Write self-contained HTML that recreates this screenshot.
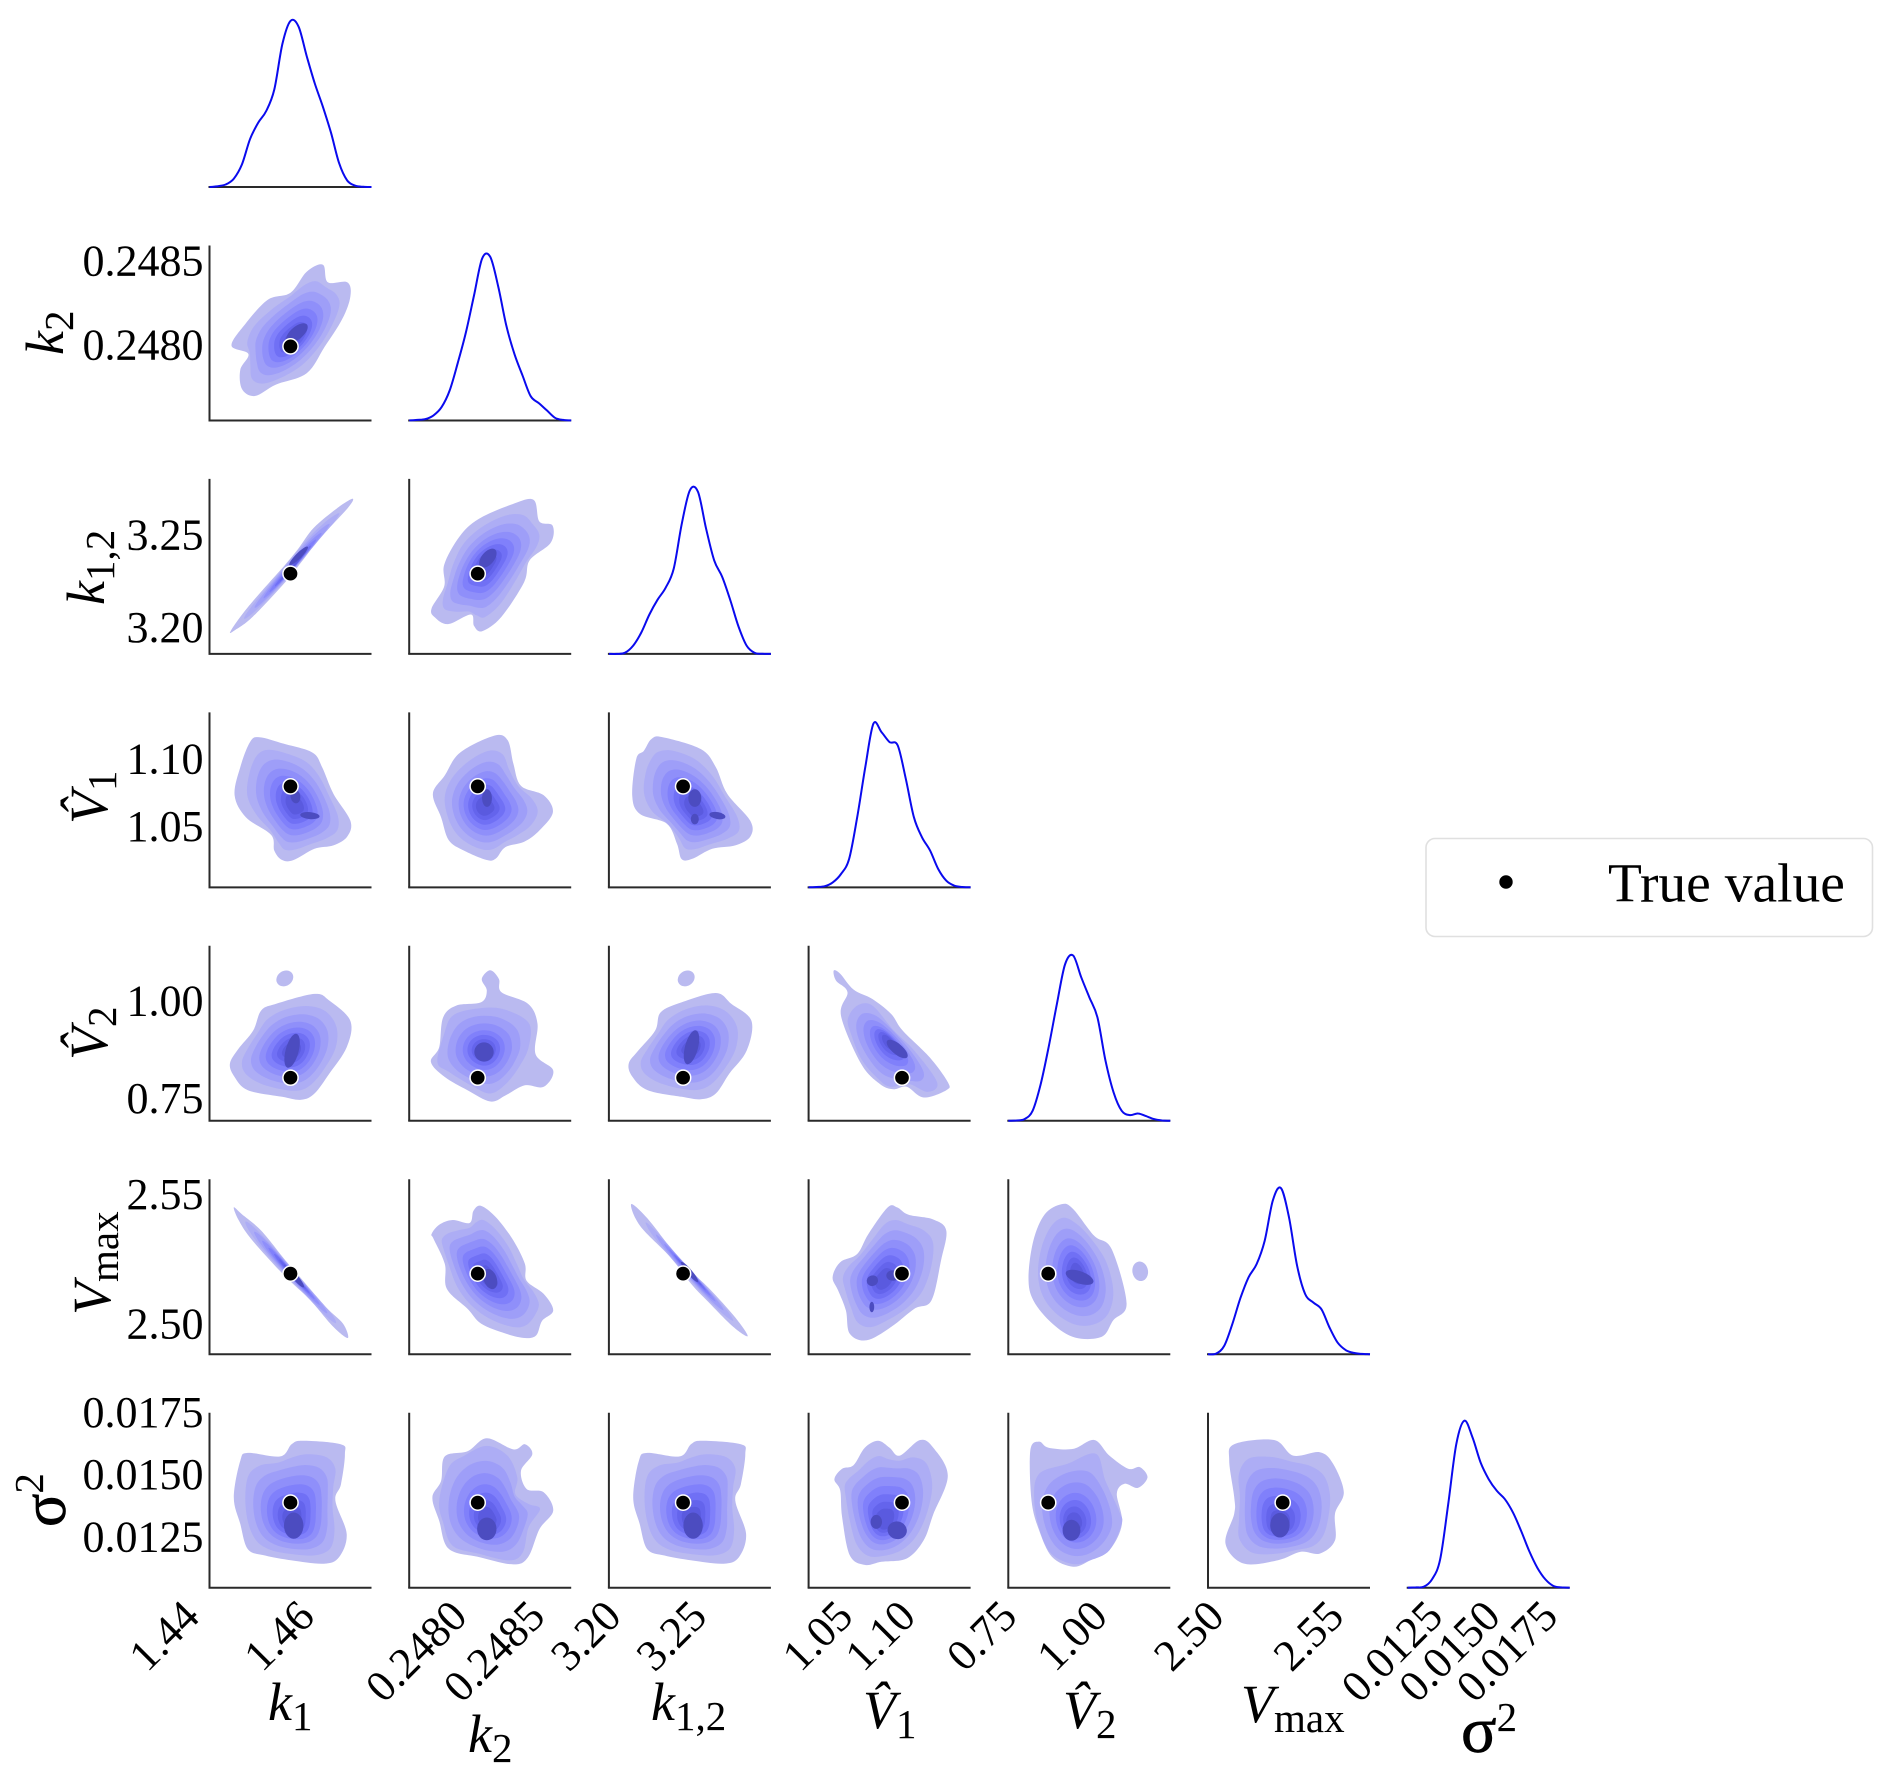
<!DOCTYPE html>
<html lang="en">
<head>
<meta charset="utf-8">
<title>Posterior pair plot</title>
<style>
html,body{margin:0;padding:0;background:#fff;}
svg{display:block;}
text{font-family:"Liberation Serif",serif;fill:#000;}
.tick{font-size:44px;}
.lab{font-size:54px;font-style:italic;}
.sub{font-size:41px;font-style:normal;}
.sig{font-size:66px;font-style:normal;stroke:#000;stroke-width:0.7px;}
.sigy{font-size:62px;font-style:normal;stroke:#000;stroke-width:0.7px;}
</style>
</head>
<body>
<svg id="chart" xmlns="http://www.w3.org/2000/svg" width="1892" height="1780" viewBox="0 0 1892 1780">
  <rect x="0" y="0" width="1892" height="1780" fill="#ffffff"/>
  <g id="panels"></g>
  <g id="ticks"></g>

  <g>
    <text class="lab" x="268" y="1720">k<tspan class="sub" dy="10">1</tspan></text>
    <text class="lab" x="468" y="1752">k<tspan class="sub" dy="10">2</tspan></text>
    <text class="lab" x="651" y="1720">k<tspan class="sub" dy="10">1,2</tspan></text>
    <text class="lab" x="863" y="1728">V&#770;<tspan class="sub" dy="10">1</tspan></text>
    <text class="lab" x="1063" y="1728">V&#770;<tspan class="sub" dy="10">2</tspan></text>
    <text class="lab" x="1241" y="1722">V<tspan class="sub" dy="10">max</tspan></text>
    <text class="lab" x="1461" y="1752"><tspan class="sig">σ</tspan><tspan class="sub" dy="-21">2</tspan></text>
  </g>
  <g>
    <text class="lab" transform="translate(63 355) rotate(-90)">k<tspan class="sub" dy="10">2</tspan></text>
    <text class="lab" transform="translate(104 605) rotate(-90)">k<tspan class="sub" dy="10">1,2</tspan></text>
    <text class="lab" transform="translate(107 824) rotate(-90)">V&#770;<tspan class="sub" dy="9">1</tspan></text>
    <text class="lab" transform="translate(107 1060) rotate(-90)">V&#770;<tspan class="sub" dy="9">2</tspan></text>
    <text class="lab" transform="translate(110 1315) rotate(-90)">V<tspan class="sub" dy="8">max</tspan></text>
    <text class="lab" transform="translate(65 1527) rotate(-90)"><tspan class="sigy">σ</tspan><tspan class="sub" dy="-22">2</tspan></text>
  </g>

  <g>
    <rect x="1426" y="838.5" width="446.5" height="98" rx="9" ry="9" fill="#ffffff" stroke="#e0e0e0" stroke-width="1.6"/>
    <circle cx="1506" cy="882" r="6.7" fill="#000000"/>
    <text x="1608" y="901.5" style="font-size:55.5px">True value</text>
  </g>
</svg>

<script>
// Parameters, in panel order
const paramNames = ["k1", "k2", "k12", "V1", "V2", "Vmax", "sigma2"];
const domainLow  = [1.4399, 0.24756, 3.1866, 1.0062, 0.6967, 2.4888, 0.010515];
const domainHigh = [1.4681, 0.24860, 3.2813, 1.1354, 1.1447, 2.5565, 0.017557];
const trueValues = [1.454, 0.248, 3.23, 1.0807, 0.807, 2.52, 0.01394];

// Tick values and their printed labels
const tickValues = [
  [1.44, 1.46], [0.248, 0.2485], [3.20, 3.25], [1.05, 1.10], [0.75, 1.00], [2.50, 2.55], [0.0125, 0.0150, 0.0175]
];
const tickLabels = [
  ["1.44", "1.46"], ["0.2480", "0.2485"], ["3.20", "3.25"], ["1.05", "1.10"], ["0.75", "1.00"], ["2.50", "2.55"], ["0.0125", "0.0150", "0.0175"]
];

// Marginal densities (percent of peak), sampled at 21 even steps across each parameter's range
const density_k1 = [0,0.5,1.5,5,13.5,28.6,38.4,45.5,58.4,85.7,99.5,96,78.4,62,48,32.5,14.3,3.9,0.8,0.1,0];
const density_k2 = [0,0.3,0.8,3,8,18,34.5,52.7,74.8,96.9,98,80,56.6,39.7,26.8,14.5,10.4,6,1.6,0.3,0];
const density_k12 = [0,0,0.7,5,12.8,23.6,32.4,39.6,51,78,98,97,75,56,46,32,16.4,5,0.6,0.1,0];
const density_V1 = [0,0.2,0.7,3,8,17,42,72,98,93,87,85,65,42,30,22,11,4,1,0.2,0];
const density_V2 = [0,0.2,1,6,22,44.6,70,93.6,99,86,74,62,36,17,6,3.4,4.4,2.8,1,0.2,0];
const density_Vmax = [0,0.4,5,18,33.6,46,54,68,92,99.5,82,53,36,31,27,16,7,2.5,0.8,0.2,0];
const density_sigma2 = [0,0.2,0.6,5,16.8,50,86,100,90,75,65,58,53,45,34,22,12,5,1,0.2,0];
const marginals = [density_k1, density_k2, density_k12, density_V1, density_V2, density_Vmax, density_sigma2];

// Outer density contours: vertices as [x, y], percent of each parameter's axis range
const outer_k2_k1 = [[13.6,42.8],[22,55],[36,69],[50,73],[60,85],[70,89],[73,79],[85,79],[87,71],[82,58],[71,42],[60,27],[41,20.5],[28,14],[20,18],[19,29],[24,38]];
const outer_k12_k1 = [[13,13],[24.4,27.5],[46.7,51],[55,60.4],[64.3,72],[78.4,83],[88.3,88.6],[85,83],[68,66],[58,54],[46.7,41],[26.8,21.3],[16.2,13.9]];
const outer_k12_k2 = [[13.8,26],[21.6,38.6],[21.6,51],[31,67],[42.7,77],[63.8,85.6],[76.8,88],[80.3,75.7],[88.5,73.3],[87.3,63.4],[74.4,53.5],[70.9,41],[56.8,21],[45,13],[40,16],[38,22.5],[24,17],[15.7,21]];
const outer_V1_k1 = [[15.5,52.6],[19,68.7],[25,83],[30.8,85.8],[46,82],[63.6,77],[69.5,68.7],[76.5,53.5],[87,38],[85,29],[76.5,24],[64.8,22],[52,15.6],[44.8,15.6],[40,21],[38,30],[22.5,40]];
const outer_V1_k2 = [[14.6,53.5],[22,64],[31.4,77],[52.6,86.7],[60.8,84],[64.3,70.6],[69,58],[83,52.6],[88.7,43],[80.5,32.6],[71,26],[59.4,23],[53.5,16.5],[47.9,15.6],[33.8,21],[24.4,27],[19.7,40]];
const outer_V1_k12 = [[14.4,52.6],[16.9,73.4],[21.6,78],[26.3,84.8],[33.3,85.8],[56.8,79],[66,68.7],[73,53.5],[87.3,38],[87.3,29],[78,24],[63.8,22],[52,16.5],[45,16],[42,25],[35.7,36.4],[19,42]];
const outer_V2_k1 = [[12.6,32.6],[17.8,41],[27,51.6],[31.9,63],[41,66.8],[64.8,72.5],[74,68.7],[87,57],[84.7,42],[74,27],[64.8,15.6],[56.6,12],[44.8,13.7],[23.7,17.5],[15.5,25]];
const outer_V2_k2 = [[13.4,33.6],[18.5,42],[20.9,59],[29,65.8],[44.4,67.7],[47.9,74.4],[44.8,81],[50,86],[55.4,81],[57,73.4],[73.4,66.8],[79.2,55.4],[78,38],[88.9,28.8],[83,19.4],[71.4,20.3],[59.6,14.6],[50.2,11],[36,17.5],[22,25]];
const outer_V2_k12 = [[12.2,32.6],[18,40],[28.6,51.6],[32,62],[45,67.7],[66,73],[75.6,66.8],[88,57],[85,40],[74.4,27],[66,15.6],[56.8,12.3],[45,13.7],[24,17.5],[14.6,25]];
const outer_V2_V1 = [[15.5,85.8],[17,80],[24,73.4],[20,60],[32.4,32.6],[44,21],[52.3,18],[60.6,19.4],[71,13.3],[85,17.5],[86,22],[74.6,36.4],[58,51.6],[51,61],[39.4,69.6],[27.7,75],[19.5,84]];
const outer_Vmax_k1 = [[15,83.9],[20,80],[32,70.6],[47,53.5],[55,45],[71.8,27],[82.4,17.5],[85.4,9.3],[76.5,15.6],[62.4,30.7],[50.7,41],[39,52],[24.9,66.8],[17.8,77]];
const outer_Vmax_k2 = [[13.8,68.7],[18.5,74],[26.8,76.7],[37.3,75],[39.7,82],[44.4,84.8],[53.8,78],[64.3,65],[71.4,51.6],[72.5,42],[83,34.5],[88.9,25],[82,19],[78.4,10.8],[71.4,9.3],[59.6,11.8],[44.4,17.5],[36,26],[23.2,37.4],[22,51.6],[15,66]];
const outer_Vmax_k12 = [[13.8,85.8],[25,76.3],[45,52.6],[61.5,38],[78,21],[85.7,10.4],[76.8,15.6],[61.5,29.8],[51,40],[38,55.4],[19.2,73.4]];
const outer_Vmax_V1 = [[14.8,44],[19.5,52.6],[30,57.3],[36.9,68.7],[48.8,83.9],[54.7,83.9],[61.7,79.7],[77,77],[85,70.6],[81.7,53.5],[75.8,30.7],[65.3,26],[51,15.6],[35.9,8],[25.4,11.8],[23,25],[18.3,36.4]];
const outer_Vmax_V2 = [[12.5,44],[15.5,65],[22.5,80],[33,85.8],[40,83],[53,67.7],[63.8,60],[73,29],[64.8,19.4],[57.7,10],[41.3,9.5],[27.2,17.5],[15.5,30.7]];
const outer_s_k1 = [[15,51.6],[19,72.5],[23.7,77],[43.7,75],[50.7,82],[57.7,84],[81,82],[83.6,76.3],[81.2,59.2],[77.7,49.7],[84.7,30.7],[80,17.5],[70.6,13.7],[50.7,15.6],[34.3,18.4],[23.7,22],[19,36.4]];
const outer_s_k2 = [[14.3,51.6],[19.7,61],[22,75],[36,78],[47.9,85.4],[64.3,79],[71.4,82],[76,76.3],[69,66.8],[72.5,56.4],[83,54.5],[88.9,44],[80.5,33.6],[73.4,17.5],[64.3,13.3],[43.2,17.5],[24.4,22.2],[18.5,38.3]];
const outer_s_k12 = [[15,51.6],[18.5,72.5],[23.7,77],[43.7,75],[50.7,82],[57.7,84],[81.5,82],[84.2,76.3],[81.5,59.2],[78,49.7],[84.7,30.7],[80.3,17.5],[70.9,13.7],[51,15.6],[34.3,18.4],[23.7,22],[19,36.4]];
const outer_s_V1 = [[15.9,62],[20.7,68],[27.7,70],[34.7,80],[42.9,84],[50,80],[56.3,75.5],[68.8,84.4],[77,80],[85.9,64],[77,42],[71,27],[60.6,16.7],[45,14.8],[34.7,13],[25.4,18.6],[20.7,40.4],[19.5,55.6]];
const outer_s_V2 = [[13.6,78.4],[19,83.5],[24.9,80],[40,79.3],[53,84.4],[62.4,75.5],[74,68],[81.2,68.9],[85.9,63],[80,57],[71.8,59.4],[67,53.7],[70.2,36.6],[62.4,21.4],[50.7,15.7],[40,12],[27,17.6],[19,32.8],[14.3,50]];
const outer_s_Vmax = [[13.1,72.7],[16.2,82],[40.8,84.4],[52.6,75.5],[69,77.4],[77.2,70.8],[83.8,54.6],[78.4,42.3],[78.4,27],[69,19.5],[57.3,20.5],[43.2,15.7],[22,13.8],[10.8,25.2],[16.2,42.3],[16.2,51.8]];

// Second density contours for panels whose outer contour has long arms the inner levels do not follow
const second_V2_k2 = [[17.4,33.6],[21.6,49.7],[26.8,60],[40.8,64],[57.3,64],[73.7,56],[73.7,42],[67.8,30.7],[59.6,21],[50.2,15.6],[39.7,19.4],[24.4,28]];
const second_V2_V1 = [[24.2,58],[30,65.8],[39.4,65.8],[52.6,51.6],[65.3,40],[79.3,22],[73.5,16.5],[62,21],[51,19.4],[44,23],[33,34.5],[26.5,48.8]];
const second_s_k2 = [[18.5,49.7],[24.4,68.7],[33.8,75.3],[47.9,81],[60.8,75.3],[66.7,63],[65.5,53.5],[73.7,47.8],[80.8,45],[73.7,34.5],[70.2,20.3],[62,15.6],[43.2,19.4],[26.8,24],[20.9,37.4]];
const second_s_V2 = [[16,50],[19,65],[36.6,70.8],[54,76.5],[60,61],[68.3,44],[70,36.6],[62.4,21.4],[50.7,15.7],[40,13.5],[27,19],[20,31]];

// Pair panels: row/col parameter index, outer contour, optional second contour, density focus, dark peak blobs, detached islands.
// Blobs and islands are [x, y, x-spread, y-spread, tilt].
const pairPanels = [
  {row:1,col:0,outer:outer_k2_k1,focus:[52,46],peaks:[[54,50,8,3.6,-40]],islands:[]},
  {row:2,col:0,outer:outer_k12_k1,focus:[52,50],peaks:[[55,56,8,1.6,-45]],islands:[]},
  {row:2,col:1,outer:outer_k12_k2,focus:[47,51],peaks:[[48.6,54.7,7,3.6,-50]],islands:[]},
  {row:3,col:0,outer:outer_V1_k1,focus:[53,47],peaks:[[62,41,6,2,5],[53,52,3,4,-10]],islands:[]},
  {row:3,col:1,outer:outer_V1_k2,focus:[46,46],peaks:[[48,51,3,5,0]],islands:[]},
  {row:3,col:2,outer:outer_V1_k12,focus:[53,45],peaks:[[53,51,4,5,0],[53,39,2.5,3,0],[67,41,5,2,10]],islands:[]},
  {row:4,col:0,outer:outer_V2_k1,focus:[51,40],peaks:[[51,40,4,10,15]],islands:[[46.5,81.4,5.5,4.2,-35]]},
  {row:4,col:1,outer:outer_V2_k2,second:second_V2_k2,focus:[46,40],peaks:[[46.2,39.3,6,5.5,0]],islands:[]},
  {row:4,col:2,outer:outer_V2_k12,focus:[51,42],peaks:[[51,42,4,10,15]],islands:[[47.7,81.4,5.5,4.2,-35]]},
  {row:4,col:3,outer:outer_V2_V1,second:second_V2_V1,focus:[50,46],peaks:[[54.7,41,8,3,40]],islands:[]},
  {row:5,col:0,outer:outer_Vmax_k1,focus:[52,45],peaks:[[53,44,8,1.6,50]],islands:[]},
  {row:5,col:1,outer:outer_Vmax_k2,focus:[48,44],peaks:[[50,43,4,6,-20]],islands:[]},
  {row:5,col:2,outer:outer_Vmax_k12,focus:[50,47],peaks:[[49.8,47,8,1.5,50]],islands:[]},
  {row:5,col:3,outer:outer_Vmax_V1,focus:[46,42],peaks:[[39.4,42,3.5,3,-20],[52,45,4,3,0],[39,27,1.5,3,0]],islands:[]},
  {row:5,col:4,outer:outer_Vmax_V2,focus:[43,46],peaks:[[44,44,9,3.5,20]],islands:[[81.4,47.4,4.8,5.6,-10]]},
  {row:6,col:0,outer:outer_s_k1,focus:[51,38],peaks:[[52,35.5,6,7.5,0]],islands:[]},
  {row:6,col:1,outer:outer_s_k2,second:second_s_k2,focus:[48,38],peaks:[[47.9,33.6,6,6.5,0]],islands:[]},
  {row:6,col:2,outer:outer_s_k12,focus:[51,38],peaks:[[52,35.5,6,7.5,0]],islands:[]},
  {row:6,col:3,outer:outer_s_V1,focus:[47,37],peaks:[[41.8,37.6,3.5,4,0],[54.7,32.8,6,5,15]],islands:[]},
  {row:6,col:4,outer:outer_s_V2,second:second_s_V2,focus:[40,36],peaks:[[39,32.8,5.5,6,0]],islands:[]},
  {row:6,col:5,outer:outer_s_Vmax,focus:[44,36],peaks:[[44.4,35.7,6,7,0]],islands:[]}
];

// Contour level shrink factors and fills, lightest to darkest
const levelShrink = [1, 0.85, 0.73, 0.61, 0.49, 0.38, 0.28, 0.19];
const levelFills = ["#babaf0", "#adadf5", "#9e9ef8", "#8f8ffa", "#8080fb", "#7070f5", "#6464ec", "#5a5adf"];

// Layout
const LEFT = 209.5, COL_STEP = 199.7, WIDTH = 162;
const FIRST_BOTTOM = 187, ROW_STEP = 233.45, HEIGHT = 175;
const NS = "http://www.w3.org/2000/svg";

function colLeft(c) { return LEFT + COL_STEP * c; }
function rowBottom(r) { return FIRST_BOTTOM + ROW_STEP * r; }
function fraction(p, value) { return (value - domainLow[p]) / (domainHigh[p] - domainLow[p]); }
function xAxis(c, value) { return colLeft(c) + fraction(c, value) * WIDTH; }
function yAxis(r, value) { return rowBottom(r) - fraction(r, value) * HEIGHT; }
function fromPercent(p, pct) { return domainLow[p] + pct / 100 * (domainHigh[p] - domainLow[p]); }
function densityY(r, d) { return rowBottom(r) - d / 104.8 * HEIGHT; }

function smoothClosed(pts) {
  const n = pts.length;
  let d = "M" + pts[0][0].toFixed(1) + " " + pts[0][1].toFixed(1);
  for (let i = 0; i < n; i++) {
    const a = pts[(i - 1 + n) % n], b = pts[i], c = pts[(i + 1) % n], e = pts[(i + 2) % n];
    d += "C" + (b[0] + (c[0] - a[0]) / 6).toFixed(1) + " " + (b[1] + (c[1] - a[1]) / 6).toFixed(1) + " " +
         (c[0] - (e[0] - b[0]) / 6).toFixed(1) + " " + (c[1] - (e[1] - b[1]) / 6).toFixed(1) + " " +
         c[0].toFixed(1) + " " + c[1].toFixed(1);
  }
  return d + "Z";
}
function smoothOpen(pts) {
  const n = pts.length;
  let d = "M" + pts[0][0].toFixed(1) + " " + pts[0][1].toFixed(1);
  for (let i = 0; i < n - 1; i++) {
    const a = pts[Math.max(i - 1, 0)], b = pts[i], c = pts[i + 1], e = pts[Math.min(i + 2, n - 1)];
    d += "C" + (b[0] + (c[0] - a[0]) / 6).toFixed(1) + " " + (b[1] + (c[1] - a[1]) / 6).toFixed(1) + " " +
         (c[0] - (e[0] - b[0]) / 6).toFixed(1) + " " + (c[1] - (e[1] - b[1]) / 6).toFixed(1) + " " +
         c[0].toFixed(1) + " " + c[1].toFixed(1);
  }
  return d;
}
function relax(pts, passes) {
  let cur = pts;
  for (let k = 0; k < passes; k++) {
    const n = cur.length;
    cur = cur.map((p, i) => {
      const a = cur[(i - 1 + n) % n], c = cur[(i + 1) % n];
      return [0.25 * a[0] + 0.5 * p[0] + 0.25 * c[0], 0.25 * a[1] + 0.5 * p[1] + 0.25 * c[1]];
    });
  }
  return cur;
}

const panelsGroup = document.getElementById("panels");
const ticksGroup = document.getElementById("ticks");

function drawSpines(group, r, c, withLeft) {
  const bottom = document.createElementNS(NS, "line");
  
  
  bottom.setAttribute("x1", colLeft(c) - 1);
  bottom.setAttribute("x2", colLeft(c) + WIDTH);
  bottom.setAttribute("y1", rowBottom(r));
  bottom.setAttribute("y2", rowBottom(r));
  bottom.setAttribute("stroke", "#2a2a2a");
  bottom.setAttribute("stroke-width", "2");
  group.appendChild(bottom);
  if (withLeft) {
    const left = document.createElementNS(NS, "line");
    
    
    left.setAttribute("x1", colLeft(c));
    left.setAttribute("x2", colLeft(c));
    left.setAttribute("y1", rowBottom(r) - HEIGHT);
    left.setAttribute("y2", rowBottom(r));
    left.setAttribute("stroke", "#2a2a2a");
    left.setAttribute("stroke-width", "2");
    group.appendChild(left);
  }
}

function drawBlob(group, r, c, spec, fill, label) {
  const cx = xAxis(c, fromPercent(c, spec[0]));
  const cy = yAxis(r, fromPercent(r, spec[1]));
  const ell = document.createElementNS(NS, "ellipse");
  
  
  ell.setAttribute("cx", cx.toFixed(1));
  ell.setAttribute("cy", cy.toFixed(1));
  ell.setAttribute("rx", (spec[2] / 100 * WIDTH).toFixed(1));
  ell.setAttribute("ry", (spec[3] / 100 * HEIGHT).toFixed(1));
  ell.setAttribute("transform", "rotate(" + spec[4] + " " + cx.toFixed(1) + " " + cy.toFixed(1) + ")");
  ell.setAttribute("fill", fill);
  group.appendChild(ell);
}

// Marginal KDE panels
marginals.forEach(function (series, i) {
  const g = document.createElementNS(NS, "g");
  
  
  drawSpines(g, i, i, false);
  const pts = series.map(function (d, k) {
    const v = fromPercent(i, k / (series.length - 1) * 100);
    return [xAxis(i, v), densityY(i, d)];
  });
  const path = document.createElementNS(NS, "path");
  
  
  path.setAttribute("d", smoothOpen(pts));
  path.setAttribute("fill", "none");
  path.setAttribute("stroke", "#0a0aee");
  path.setAttribute("stroke-width", "2");
  g.appendChild(path);
  panelsGroup.appendChild(g);
});

// Pair KDE panels
pairPanels.forEach(function (panel) {
  const r = panel.row, c = panel.col;
  const g = document.createElementNS(NS, "g");
  
  
  panel.islands.forEach(function (spec) {
    drawBlob(g, r, c, spec, levelFills[0], 'density-island');
  });
  levelShrink.forEach(function (t, k) {
    const useSecond = panel.second && k >= 1;
    const source = useSecond ? panel.second : panel.outer;
    const scale = useSecond ? t / levelShrink[1] : t;
    const base = relax(source, useSecond ? Math.min(k - 1, 3) : Math.min(k, 3));
    const pts = base.map(function (p) {
      const px = panel.focus[0] + (p[0] - panel.focus[0]) * scale;
      const py = panel.focus[1] + (p[1] - panel.focus[1]) * scale;
      return [xAxis(c, fromPercent(c, px)), yAxis(r, fromPercent(r, py))];
    });
    const path = document.createElementNS(NS, "path");
    
    
    path.setAttribute("d", smoothClosed(pts));
    path.setAttribute("fill", levelFills[k]);
    g.appendChild(path);
  });
  panel.peaks.forEach(function (spec) {
    drawBlob(g, r, c, spec, "#4c4cc0", 'density-peak');
  });
  drawSpines(g, r, c, true);
  const marker = document.createElementNS(NS, "circle");
  
  
  marker.setAttribute("cx", xAxis(c, trueValues[c]).toFixed(1));
  marker.setAttribute("cy", yAxis(r, trueValues[r]).toFixed(1));
  marker.setAttribute("r", "7.6");
  marker.setAttribute("fill", "#000000");
  marker.setAttribute("stroke", "#ffffff");
  marker.setAttribute("stroke-width", "1.5");
  g.appendChild(marker);
  panelsGroup.appendChild(g);
});

// Y tick labels, left column, rows 1-6
for (let r = 1; r < paramNames.length; r++) {
  tickValues[r].forEach(function (v, i) {
    const t = document.createElementNS(NS, "text");
    
    
    t.setAttribute("class", "tick");
    t.setAttribute("text-anchor", "end");
    t.setAttribute("x", LEFT - 6);
    t.setAttribute("y", (yAxis(r, v) + 13).toFixed(1));
    t.textContent = tickLabels[r][i];
    ticksGroup.appendChild(t);
  });
}

// X tick labels, bottom row, rotated 45 degrees
const bottomRow = paramNames.length - 1;
for (let c = 0; c < paramNames.length; c++) {
  tickValues[c].forEach(function (v, i) {
    const ax = xAxis(c, v) - 8.5;
    const ay = rowBottom(bottomRow) + 31;
    const t = document.createElementNS(NS, "text");
    
    
    t.setAttribute("class", "tick");
    t.setAttribute("text-anchor", "end");
    t.setAttribute("transform", "translate(" + ax.toFixed(1) + " " + ay.toFixed(1) + ") rotate(-45)");
    t.textContent = tickLabels[c][i];
    ticksGroup.appendChild(t);
  });
}
</script>
</body>
</html>
